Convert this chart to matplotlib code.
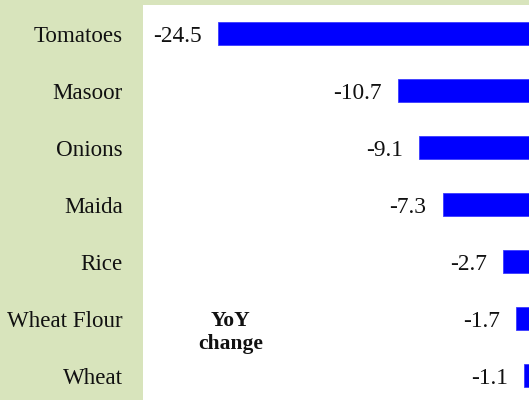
import matplotlib
matplotlib.use('Agg')
import matplotlib.pyplot as plt
import numpy as np

items = ['Tomatoes', 'Masoor', 'Onions', 'Maida', 'Rice', 'Wheat Flour', 'Wheat']
yoy_change = [-24.5, -10.7, -9.1, -7.3, -2.7, -1.7, -1.1]

plt.rcParams['font.family'] = 'serif'
plt.rcParams['font.serif'] = ['Liberation Serif', 'Times New Roman', 'DejaVu Serif']

fig = plt.figure(figsize=(5.29, 4.0), dpi=100)
fig.patch.set_facecolor('#d8e4bc')

# axes runs a little past the right and bottom edges of the figure
ax = fig.add_axes([143 / 529, -4 / 400, 395 / 529, 399 / 400])
ax.set_facecolor('white')

y = np.arange(len(items))
ax.barh(y, yoy_change, height=0.4, color='#0000ff', edgecolor='#3b3bff', linewidth=0.6)

for yi, v in zip(y, yoy_change):
    ax.annotate(f'{v:.1f}', xy=(v, yi), xytext=(-11.5, 0), textcoords='offset points',
                ha='right', va='center_baseline', fontsize=16.8, color='#111111')

ax.set_xlim(-30.2, 0)
ax.set_ylim(len(items) - 0.5, -0.5)
ax.set_yticks(y)
ax.set_yticklabels(items, fontsize=16.6, color='#111111', va='center_baseline')
ax.tick_params(axis='y', length=0, pad=14.5)
ax.set_xticks([])
for s in ax.spines.values():
    s.set_visible(False)

fig.text(230.5 / 529, 1 - 332.5 / 400, 'YoY\nchange', ha='center', va='center',
         fontsize=15.5, fontweight='bold', color='#111111', linespacing=1.15)

fig.savefig('out.png', dpi=100, facecolor=fig.get_facecolor())
